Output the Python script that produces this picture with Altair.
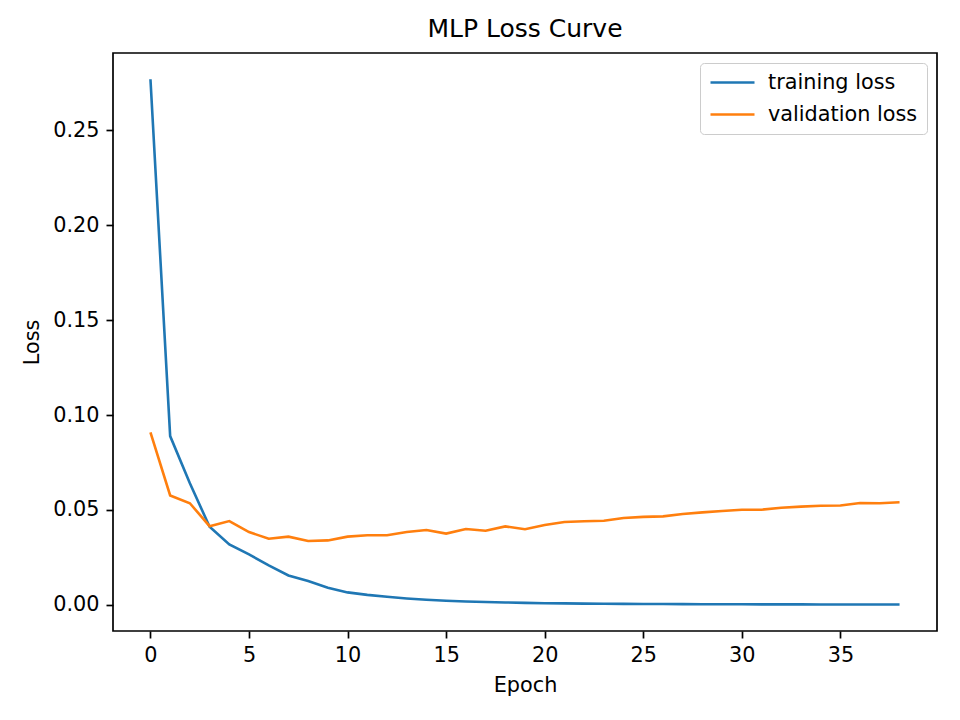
import altair as alt
import pandas as pd

epochs = list(range(39))
training_loss = [
    0.2770, 0.0889, 0.0640, 0.0411, 0.0318, 0.0265, 0.0207, 0.0154, 0.0125, 0.0090,
    0.0065, 0.0052, 0.0042, 0.0033, 0.0026, 0.0021, 0.0017, 0.0014, 0.0012, 0.0010,
    0.0008, 0.0007, 0.0006, 0.0005, 0.00045, 0.0004, 0.00036, 0.00032, 0.00029, 0.00026,
    0.00023, 0.00021, 0.00019, 0.00017, 0.00015, 0.00014, 0.00013, 0.00012, 0.00011,
]
validation_loss = [
    0.0909, 0.0576, 0.0535, 0.0414, 0.0441, 0.0383, 0.0348, 0.0359, 0.0336, 0.0339,
    0.0359, 0.0366, 0.0366, 0.0383, 0.0394, 0.0375, 0.0399, 0.0390, 0.0413, 0.0398,
    0.0420, 0.0436, 0.0440, 0.0443, 0.0457, 0.0463, 0.0466, 0.0478, 0.0487, 0.0494,
    0.0501, 0.0501, 0.0511, 0.0517, 0.0522, 0.0523, 0.0536, 0.0535, 0.0540,
]
series_names = ["training loss", "validation loss"]
series_colors = ["#1f77b4", "#ff7f0e"]
x_ticks = [0, 5, 10, 15, 20, 25, 30, 35]
y_ticks = [0.00, 0.05, 0.10, 0.15, 0.20, 0.25]

rows = []
for e, v in zip(epochs, training_loss):
    rows.append({"epoch": e, "loss": v, "series": series_names[0]})
for e, v in zip(epochs, validation_loss):
    rows.append({"epoch": e, "loss": v, "series": series_names[1]})
df = pd.DataFrame(rows)

FONT = "DejaVu Sans"
FS = 20.8

chart = (
    alt.Chart(df)
    .mark_line(strokeWidth=2.6, clip=True)
    .encode(
        x=alt.X(
            "epoch:Q",
            scale=alt.Scale(domain=[-1.9, 39.9], nice=False, zero=False),
            axis=alt.Axis(values=x_ticks, format="d", title="Epoch"),
        ),
        y=alt.Y(
            "loss:Q",
            scale=alt.Scale(domain=[-0.01385, 0.29085], nice=False, zero=False),
            axis=alt.Axis(values=y_ticks, format=".2f", title="Loss"),
        ),
        color=alt.Color(
            "series:N",
            scale=alt.Scale(domain=series_names, range=series_colors),
            legend=alt.Legend(
                title=None,
                orient="none",
                legendX=587,
                legendY=10,
                symbolType="stroke",
                symbolSize=1936,
                symbolStrokeWidth=2.6,
                labelFont=FONT,
                labelFontSize=FS,
                labelColor="black",
                labelOffset=12,
                clipHeight=21,
                rowPadding=10,
                padding=9,
                fillColor="white",
                strokeColor="#cccccc",
                cornerRadius=4,
            ),
        ),
        order=alt.Order("epoch:Q"),
    )
    .properties(
        width=824,
        height=578,
        autosize=alt.AutoSizeParams(type="none"),
        padding={"left": 105, "top": 45, "right": 15, "bottom": 75},
        title=alt.TitleParams(
            "MLP Loss Curve",
            font=FONT,
            fontSize=25,
            fontWeight="normal",
            color="black",
            anchor="middle",
            offset=11,
        ),
    )
    .configure_view(stroke="black", strokeWidth=1.7)
    .configure_axis(
        grid=False,
        domain=False,
        ticks=True,
        tickSize=7,
        tickWidth=1.7,
        tickColor="black",
        labelFont=FONT,
        labelFontSize=FS,
        labelColor="black",
        labelPadding=7,
        titleFont=FONT,
        titleFontSize=FS,
        titleFontWeight="normal",
        titleColor="black",
    )
    .configure_axisX(titlePadding=11)
    .configure_axisY(titlePadding=10)
)

chart.save("out.html", embed_options={"renderer": "svg", "actions": False})
